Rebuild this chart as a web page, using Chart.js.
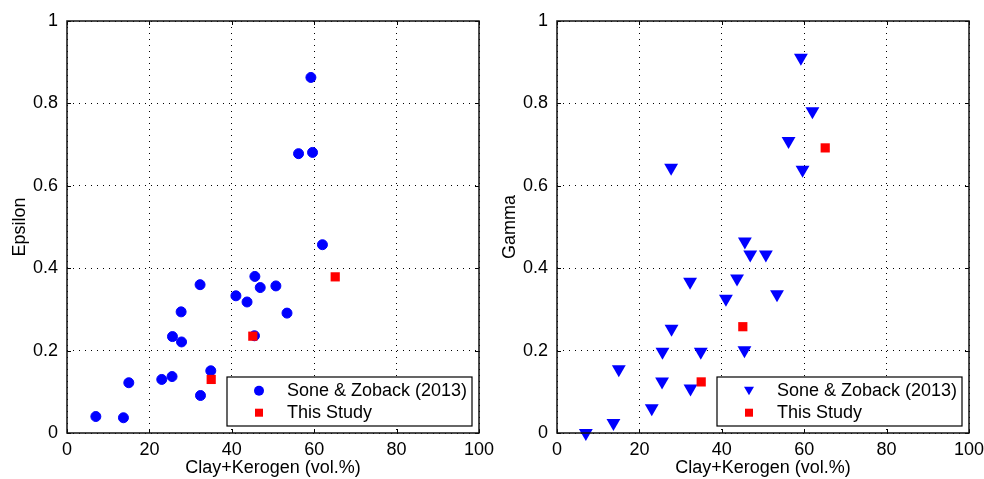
<!DOCTYPE html>
<html>
<head>
<meta charset="utf-8">
<script src="https://cdn.jsdelivr.net/npm/chart.js"></script>
<style>
  body { margin: 0; background: #fff; }
  .panel { position: absolute; top: 0; height: 479px; }
</style>
</head>
<body>
<div class="panel" style="left:0;width:497px"><canvas id="epsChart" width="497" height="479"></canvas></div>
<div class="panel" style="left:497px;width:487px"><canvas id="gamChart" width="487" height="479"></canvas></div>
<script>
// Sone & Zoback (2013) samples
const soneClay = [7.0, 13.7, 15.0, 23.0, 25.5, 25.6, 27.7, 27.8, 32.3, 32.4, 34.9, 41.0, 43.7, 45.5, 45.6, 46.9, 50.7, 53.4, 56.2, 59.2, 59.6, 62.0];
const soneEpsilon = [0.040, 0.037, 0.122, 0.130, 0.137, 0.234, 0.294, 0.221, 0.360, 0.091, 0.151, 0.333, 0.318, 0.236, 0.380, 0.353, 0.357, 0.291, 0.678, 0.863, 0.681, 0.457];
const soneGamma = [0.000, 0.024, 0.155, 0.060, 0.125, 0.197, 0.644, 0.253, 0.367, 0.108, 0.197, 0.326, 0.375, 0.201, 0.465, 0.433, 0.433, 0.337, 0.709, 0.911, 0.639, 0.781];

// This Study
const studyClay = [35.0, 45.1, 65.1];
const studyEpsilon = [0.130, 0.235, 0.379];
const studyGamma = [0.124, 0.258, 0.692];

const xTickLabels = ["0", "20", "40", "60", "80", "100"];
const yTickLabels = ["0", "0.2", "0.4", "0.6", "0.8", "1"];

Chart.defaults.font.family = "'Liberation Sans', Arial, sans-serif";
Chart.defaults.font.size = 18;
Chart.defaults.color = "#000";

function toPoints(xs, ys) {
    return xs.map((x, i) => ({ x: x, y: ys[i] }));
}

function drawMarker(ctx, style, x, y, r) {
    ctx.beginPath();
    if (style === "circle") {
        ctx.arc(x, y, r, 0, Math.PI * 2);
    } else if (style === "rect") {
        ctx.rect(x - r, y - r, 2 * r, 2 * r);
    } else {
        // downward triangle
        ctx.moveTo(x - r, y - r * 0.8);
        ctx.lineTo(x + r, y - r * 0.8);
        ctx.lineTo(x, y + r * 0.9);
        ctx.closePath();
    }
    ctx.fill();
}

// frame, inward ticks and the boxed legend inside the plot
const framePlugin = {
    id: "frame",
    afterDraw(chart, args, opts) {
        const ctx = chart.ctx;
        const a = chart.chartArea;
        const x = chart.scales.x, y = chart.scales.y;
        ctx.save();
        ctx.strokeStyle = "#000";
        ctx.lineWidth = 1;
        ctx.beginPath();
        x.ticks.forEach(t => {
            const px = Math.round(x.getPixelForValue(t.value)) + 0.5;
            ctx.moveTo(px, a.bottom); ctx.lineTo(px, a.bottom - 4);
            ctx.moveTo(px, a.top); ctx.lineTo(px, a.top + 4);
        });
        y.ticks.forEach(t => {
            const py = Math.round(y.getPixelForValue(t.value)) + 0.5;
            ctx.moveTo(a.left, py); ctx.lineTo(a.left + 4, py);
            ctx.moveTo(a.right, py); ctx.lineTo(a.right - 4, py);
        });
        ctx.stroke();

        ctx.lineWidth = 1.5;
        ctx.strokeStyle = "#111";
        ctx.strokeRect(a.left, a.top, a.width, a.height);

        // legend
        const w = 245, h = 49;
        const bx = a.right - 7 - w, by = a.bottom - 7 - h;
        ctx.fillStyle = "#fff";
        ctx.fillRect(bx, by, w, h);
        ctx.lineWidth = 1.2;
        ctx.strokeStyle = "#000";
        ctx.strokeRect(bx, by, w, h);
        opts.items.forEach((it, i) => {
            const ry = by + 13.7 + i * 22;
            ctx.fillStyle = it.color;
            drawMarker(ctx, it.style, bx + 32, ry, it.r);
            ctx.fillStyle = "#000";
            ctx.font = "18px 'Liberation Sans', Arial, sans-serif";
            ctx.textBaseline = "middle";
            ctx.textAlign = "left";
            ctx.fillText(it.label, bx + 60, ry);
        });
        ctx.restore();
    }
};

function makeChart(id, yTitle, soneVals, studyVals, soneStyle, yAxisWidth, padRight, titlePad, legendItems) {
    const ctx = document.getElementById(id).getContext("2d");
    return new Chart(ctx, {
        type: "scatter",
        data: {
            datasets: [
                {
                    label: "Sone & Zoback (2013)",
                    data: toPoints(soneClay, soneVals),
                    pointStyle: soneStyle === "triangle" ? "triangle" : "circle",
                    rotation: soneStyle === "triangle" ? 180 : 0,
                    pointRadius: soneStyle === "triangle" ? 8 : 5,
                    pointBorderWidth: soneStyle === "triangle" ? 0 : 1,
                    backgroundColor: "#0000ff",
                    borderColor: "#0000ff",
                    clip: false,
                    order: 1,
                },
                {
                    label: "This Study",
                    data: toPoints(studyClay, studyVals),
                    pointStyle: "rect",
                    pointRadius: 6.5,
                    pointBorderWidth: 0,
                    backgroundColor: "#ff0000",
                    borderColor: "#ff0000",
                    clip: false,
                    order: 0,
                },
            ],
        },
        options: {
            responsive: false,
            animation: false,
            events: [],
            layout: { padding: { top: 21, right: padRight, bottom: 0, left: 0 } },
            plugins: {
                legend: { display: false },
                tooltip: { enabled: false },
                frame: { items: legendItems },
            },
            scales: {
                x: {
                    type: "linear",
                    min: 0,
                    max: 100,
                    ticks: {
                        stepSize: 20,
                        padding: 6,
                        maxRotation: 0,
                        callback: (v, i) => xTickLabels[i],
                    },
                    grid: { color: "#000", lineWidth: 1, drawTicks: false },
                    border: { display: false, dash: [1, 5] },
                    title: {
                        display: true,
                        text: "Clay+Kerogen (vol.%)",
                        font: { size: 18 },
                        padding: { top: 0, bottom: 0 },
                    },
                    afterFit(scale) {
                        scale.height = 46;
                        scale.paddingLeft = 0;
                        scale.paddingRight = 0;
                    },
                },
                y: {
                    type: "linear",
                    min: 0,
                    max: 1,
                    ticks: {
                        stepSize: 0.2,
                        padding: 9,
                        callback: (v, i) => yTickLabels[i],
                    },
                    grid: { color: "#000", lineWidth: 1, drawTicks: false },
                    border: { display: false, dash: [1, 5] },
                    title: {
                        display: true,
                        text: yTitle,
                        font: { size: 18 },
                        padding: { top: titlePad, bottom: 0 },
                    },
                    afterFit(scale) {
                        scale.width = yAxisWidth;
                        scale.paddingTop = 0;
                        scale.paddingBottom = 0;
                    },
                },
            },
        },
        plugins: [framePlugin],
    });
}

document.addEventListener("DOMContentLoaded", function () {
    makeChart("epsChart", "Epsilon", soneEpsilon, studyEpsilon, "circle", 67, 18, 9, [
        { label: "Sone & Zoback (2013)", style: "circle", color: "#0000ff", r: 5 },
        { label: "This Study", style: "rect", color: "#ff0000", r: 4 },
    ]);
    makeChart("gamChart", "Gamma", soneGamma, studyGamma, "triangle", 60, 15, 2, [
        { label: "Sone & Zoback (2013)", style: "triangle", color: "#0000ff", r: 5 },
        { label: "This Study", style: "rect", color: "#ff0000", r: 4 },
    ]);
});
</script>
</body>
</html>
